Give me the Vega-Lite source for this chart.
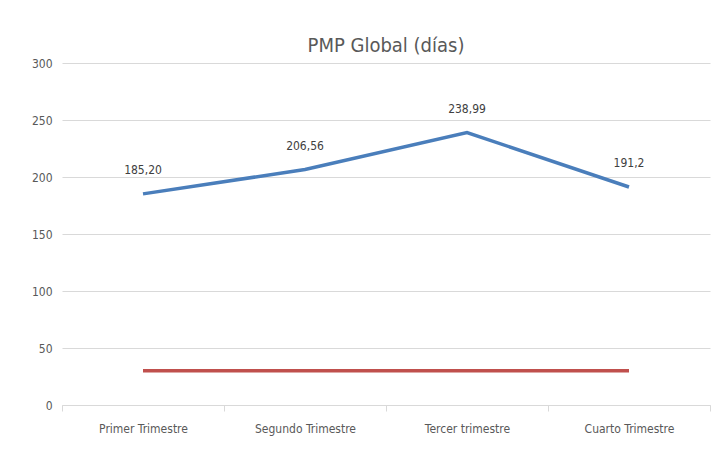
{
  "$schema": "https://vega.github.io/schema/vega-lite/v6.json",
  "width": 648,
  "height": 342,
  "autosize": "none",
  "padding": {"left": 62, "top": 63, "right": 17, "bottom": 50},
  "background": "white",
  "title": {"text": "PMP Global (días)", "font": "'DejaVu Sans Condensed', 'Roboto Condensed', Roboto, sans-serif", "fontSize": 20, "fontWeight": "normal", "color": "#595959", "offset": 1, "anchor": "middle"},
  "config": {"view": {"stroke": null}, "font": "'DejaVu Sans Condensed', 'Roboto Condensed', Roboto, sans-serif"},
  "data": {"values": [
    {"trimestre": "Primer Trimestre", "serie": "PMP", "valor": 185.20, "etiqueta": "185,20"},
    {"trimestre": "Segundo Trimestre", "serie": "PMP", "valor": 206.56, "etiqueta": "206,56"},
    {"trimestre": "Tercer trimestre", "serie": "PMP", "valor": 238.99, "etiqueta": "238,99"},
    {"trimestre": "Cuarto Trimestre", "serie": "PMP", "valor": 191.2, "etiqueta": "191,2"},
    {"trimestre": "Primer Trimestre", "serie": "Límite", "valor": 30, "etiqueta": ""},
    {"trimestre": "Segundo Trimestre", "serie": "Límite", "valor": 30, "etiqueta": ""},
    {"trimestre": "Tercer trimestre", "serie": "Límite", "valor": 30, "etiqueta": ""},
    {"trimestre": "Cuarto Trimestre", "serie": "Límite", "valor": 30, "etiqueta": ""}
  ]},
  "encoding": {
    "x": {"field": "trimestre", "type": "nominal", "sort": null,
      "scale": {"type": "band", "paddingInner": 0, "paddingOuter": 0},
      "axis": {"title": null, "labelAngle": 0, "labelFontSize": 12, "labelColor": "#595959", "labelPadding": 12,
        "domainColor": "#d9d9d9", "tickColor": "#d9d9d9", "tickBand": "extent", "tickSize": 6, "grid": false}},
    "y": {"field": "valor", "type": "quantitative",
      "scale": {"domain": [0, 300]},
      "axis": {"title": null, "values": [0, 50, 100, 150, 200, 250, 300], "labelFontSize": 12, "labelColor": "#595959", "labelPadding": 10,
        "domain": false, "ticks": false, "gridColor": "#d9d9d9", "gridWidth": 1}}
  },
  "layer": [
    {"mark": {"type": "line", "strokeWidth": 3.5},
      "encoding": {"color": {"field": "serie", "type": "nominal", "scale": {"domain": ["PMP", "Límite"], "range": ["#4a7ebb", "#c0504d"]}, "legend": null}}},
    {"transform": [{"filter": "datum.serie == 'PMP'"}],
      "mark": {"type": "text", "dy": -24, "fontSize": 12, "color": "#404040"},
      "encoding": {"text": {"field": "etiqueta"}}}
  ]
}
